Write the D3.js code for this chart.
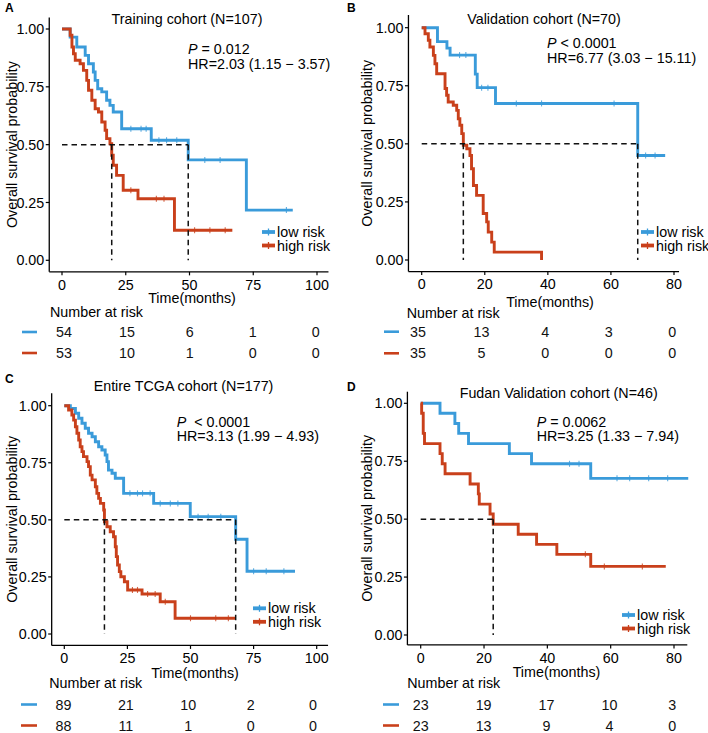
<!DOCTYPE html>
<html><head><meta charset="utf-8">
<script src="https://cdn.jsdelivr.net/npm/d3@7"></script>
<style>body{margin:0;background:#fff}svg{font-family:"Liberation Sans",Arial,sans-serif}</style>
</head><body><svg id="c" width="708" height="733"></svg>
<script>
// ---------- data ----------
const seriesNames = ["low risk", "high risk"];
const colors = ["#3A9BDA", "#C9401B"];

// Panel A: Training cohort
const timeA_low  = [0, 3.2, 5.8, 9.1, 10.4, 12.3, 13, 14, 15.6, 17.5, 18.8, 20.1, 23.4, 35, 49.5, 72.3, 90.5];
const survA_low  = [1, 0.965, 0.922, 0.886, 0.85, 0.814, 0.778, 0.742, 0.728, 0.692, 0.67, 0.641, 0.569, 0.519, 0.434, 0.217, 0.217];
const censA_low  = [27, 31, 33, 38, 41, 45, 56, 62, 88];
const timeA_high = [0, 3.2, 3.9, 4.5, 5.2, 7.1, 8.4, 9.7, 10.4, 11.7, 13, 14.3, 15.6, 16.9, 17.5, 18.8, 19.5, 20.1, 21.4, 24, 29.8, 44.1, 66.8];
const survA_high = [1, 0.973, 0.922, 0.893, 0.865, 0.85, 0.821, 0.778, 0.735, 0.692, 0.655, 0.641, 0.598, 0.562, 0.526, 0.504, 0.454, 0.411, 0.367, 0.303, 0.266, 0.13, 0.13];
const censA_high = [27, 37, 40, 52, 58, 64];
const ticksA = [0, 25, 50, 75, 100];
const riskA_low  = [54, 15, 6, 1, 0];
const riskA_high = [53, 10, 1, 0, 0];

// Panel B: Validation cohort
const timeB_low  = [0, 5.0, 8.0, 9.0, 17.0, 17.6, 23.4, 68.5, 77.2];
const survB_low  = [1, 0.94, 0.912, 0.882, 0.80, 0.742, 0.674, 0.45, 0.45];
const censB_low  = [12, 14, 19, 21, 30, 38, 61, 71, 74];
const timeB_high = [0, 1.05, 2.1, 2.6, 3.7, 4.2, 4.75, 7.4, 7.9, 8.4, 10, 11.1, 11.6, 12.1, 12.7, 13.2, 14.3, 15.3, 15.8, 16.4, 17.4, 19.5, 20.6, 21.1, 22.2, 23, 38];
const survB_high = [1, 0.974, 0.946, 0.917, 0.881, 0.845, 0.802, 0.738, 0.709, 0.68, 0.666, 0.644, 0.608, 0.58, 0.544, 0.494, 0.479, 0.45, 0.393, 0.321, 0.278, 0.2, 0.164, 0.12, 0.077, 0.034, 0];
const censB_high = [];
const ticksB = [0, 20, 40, 60, 80];
const riskB_low  = [35, 13, 4, 3, 0];
const riskB_high = [35, 5, 0, 0, 0];

// Panel C: Entire TCGA cohort
const timeC_low  = [0, 2.4, 4.4, 5.7, 7, 8.3, 9.6, 11, 12.3, 13.6, 14.9, 16.2, 16.9, 17.5, 18.9, 20.2, 23.5, 35.4, 49.9, 67.9, 72.4, 91.4];
const survC_low  = [1, 0.988, 0.967, 0.945, 0.923, 0.901, 0.879, 0.864, 0.842, 0.82, 0.806, 0.784, 0.755, 0.718, 0.704, 0.682, 0.616, 0.572, 0.514, 0.415, 0.275, 0.275];
const censC_low  = [26, 29, 31, 34, 38, 42, 45, 53, 57, 62, 75, 80, 87];
const timeC_high = [0, 1.7, 3.0, 3.7, 4.4, 5.0, 5.7, 6.3, 7.0, 7.6, 9.0, 9.6, 10.3, 11, 12.3, 12.9, 13.6, 14.3, 15.6, 15.9, 16.9, 18.2, 19.5, 20.2, 20.6, 21.1, 21.8, 22.4, 23.8, 25.1, 30.8, 38, 43.9, 67.7];
const survC_high = [1, 0.981, 0.959, 0.937, 0.908, 0.879, 0.85, 0.82, 0.799, 0.777, 0.755, 0.733, 0.696, 0.675, 0.645, 0.616, 0.594, 0.572, 0.543, 0.492, 0.47, 0.448, 0.426, 0.382, 0.339, 0.302, 0.273, 0.251, 0.229, 0.193, 0.175, 0.141, 0.069, 0.069];
const censC_high = [27, 29, 33, 36, 40, 50, 60, 65];
const ticksC = [0, 25, 50, 75, 100];
const riskC_low  = [89, 21, 10, 2, 0];
const riskC_high = [88, 11, 1, 0, 0];

// Panel D: Fudan Validation cohort
const timeD_low  = [0, 6.1, 10.8, 12.0, 15.1, 28, 35, 53.7, 84.5];
const survD_low  = [1, 0.957, 0.913, 0.87, 0.826, 0.783, 0.739, 0.676, 0.676];
const censD_low  = [47, 50, 62, 66, 72, 78];
const timeD_high = [0, 0.3, 0.8, 1.2, 6.1, 6.8, 7.7, 15.6, 18.2, 18.5, 21.9, 22.9, 30.8, 36.6, 43, 53.7, 77.4];
const survD_high = [1, 0.957, 0.87, 0.826, 0.783, 0.739, 0.696, 0.652, 0.609, 0.565, 0.522, 0.478, 0.435, 0.391, 0.348, 0.296, 0.296];
const censD_high = [52, 58, 70];
const ticksD = [0, 20, 40, 60, 80];
const riskD_low  = [23, 19, 17, 10, 3];
const riskD_high = [23, 13, 9, 4, 0];

const titles = ["Training cohort (N=107)", "Validation cohort (N=70)", "Entire TCGA cohort (N=177)", "Fudan Validation cohort (N=46)"];
const pTexts = [" = 0.012", " < 0.0001", "  < 0.0001", " = 0.0062"];
const hrTexts = ["HR=2.03 (1.15 \u2212 3.57)", "HR=6.77 (3.03 \u2212 15.11)", "HR=3.13 (1.99 \u2212 4.93)", "HR=3.25 (1.33 \u2212 7.94)"];
const medians = [[19.5, 49.5], [13.2, 68.5], [15.9, 67.9], [22.9, null]];
const letters = ["A", "B", "C", "D"];
const yTicks = [0, 0.25, 0.5, 0.75, 1];

// ---------- layout ----------
const panels = [
  {low:[timeA_low, survA_low, censA_low], high:[timeA_high, survA_high, censA_high], ticks:ticksA, risk:[riskA_low, riskA_high],
   xr:[62, 317], xd:[0,100], xext:[-5, 104.5], yr:[260.3, 29], yext:[-0.05, 1.05], riskR:[64, 315.7],
   letter:[5,12], title:[187,19], p:[188,49], leg:[262,232], yl:11.7, time:[192,297.5], nar:[50,312], rows:[332,353], dash:[22,37]},
  {low:[timeB_low, survB_low, censB_low], high:[timeB_high, survB_high, censB_high], ticks:ticksB, risk:[riskB_low, riskB_high],
   xr:[421.7, 674], xd:[0,80], xext:[-4.2, 81.6], yr:[260, 27.7], yext:[-0.05, 1.055], riskR:[418, 672.3],
   letter:[347,12], title:[544,19], p:[547,43], leg:[641,232], yl:367.3, time:[550,301.7], nar:[406.7,312.7], rows:[331.7,353.3], dash:[384,399]},
  {low:[timeC_low, survC_low, censC_low], high:[timeC_high, survC_high, censC_high], ticks:ticksC, risk:[riskC_low, riskC_high],
   xr:[64.3, 316.7], xd:[0,100], xext:[-5, 104.5], yr:[634, 405.7], yext:[-0.05, 1.054], riskR:[63.5, 313],
   letter:[5,383], title:[183.5,386], p:[176.7,421.7], leg:[253,608.3], yl:11.7, time:[195,673.3], nar:[49.3,683.3], rows:[704.5,725.5], dash:[21,37]},
  {low:[timeD_low, survD_low, censD_low], high:[timeD_high, survD_high, censD_high], ticks:ticksD, risk:[riskD_low, riskD_high],
   xr:[420.7, 674], xd:[0,80], xext:[-4.2, 84.2], yr:[635, 403.3], yext:[-0.043, 1.05], riskR:[420.7, 672.3],
   letter:[347,391], title:[558.7,393], p:[536.7,421.7], leg:[622,615], yl:367.3, time:[556.5,671.7], nar:[407.3,683.3], rows:[704.5,725.5], dash:[383,399]}
];

const svg = d3.select("#c");
const FS = 14.3;

panels.forEach((P, i) => {
  const g = svg.append("g");
  const x = d3.scaleLinear().domain(P.xd).range(P.xr);
  const y = d3.scaleLinear().domain([0,1]).range(P.yr);
  const x0 = x(P.xext[0]), x1 = x(P.xext[1]);
  const y0 = y(P.yext[0]), y1 = y(P.yext[1]);

  // curves
  const line = d3.line().x(d => x(d[0])).y(d => y(d[1])).curve(d3.curveStepAfter);
  [P.low, P.high].forEach((s, k) => {
    const pts = s[0].map((t, j) => [t, s[1][j]]);
    g.append("path").attr("d", line(pts)).attr("fill", "none")
      .attr("stroke", colors[k]).attr("stroke-width", 2.9).attr("stroke-linejoin", "miter");
    const stepVal = t => { let v = 1; s[0].forEach((tt, j) => { if (tt <= t) v = s[1][j]; }); return v; };
    s[2].forEach(t => {
      const cy = y(stepVal(t));
      g.append("line").attr("x1", x(t)).attr("x2", x(t)).attr("y1", cy - 3).attr("y2", cy + 3)
        .attr("stroke", colors[k]).attr("stroke-width", 1.1).attr("opacity", 0.8);
    });
  });

  // median dashed lines
  const med = medians[i].filter(m => m !== null);
  const maxMed = d3.max(med);
  g.append("line").attr("x1", x(0)).attr("x2", x(maxMed)).attr("y1", y(0.5)).attr("y2", y(0.5))
    .attr("stroke", "#111").attr("stroke-width", 1.5).attr("stroke-dasharray", "5.5,4");
  med.forEach(m => {
    g.append("line").attr("x1", x(m)).attr("x2", x(m)).attr("y1", y(0.5)).attr("y2", y(0))
      .attr("stroke", "#111").attr("stroke-width", 1.5).attr("stroke-dasharray", "5.5,4");
  });

  // axes
  g.append("line").attr("x1", x0).attr("x2", x0).attr("y1", y1).attr("y2", y0).attr("stroke", "#000").attr("stroke-width", 1.3);
  g.append("line").attr("x1", x0).attr("x2", x1).attr("y1", y0).attr("y2", y0).attr("stroke", "#000").attr("stroke-width", 1.3);
  yTicks.forEach(v => {
    g.append("line").attr("x1", x0 - 3.5).attr("x2", x0).attr("y1", y(v)).attr("y2", y(v)).attr("stroke", "#000").attr("stroke-width", 1.2);
    g.append("text").attr("x", x0 - 5).attr("y", y(v)).attr("dy", "0.36em").attr("text-anchor", "end")
      .attr("font-size", FS).attr("fill", "#000").text(d3.format(".2f")(v));
  });
  P.ticks.forEach(v => {
    g.append("line").attr("x1", x(v)).attr("x2", x(v)).attr("y1", y0).attr("y2", y0 + 3.5).attr("stroke", "#000").attr("stroke-width", 1.2);
    g.append("text").attr("x", x(v)).attr("y", y0 + 12.5).attr("dy", "0.36em").attr("text-anchor", "middle")
      .attr("font-size", FS).attr("fill", "#000").text(v);
  });

  g.append("text").attr("transform", `translate(${P.yl},${(y0 + y1) / 2}) rotate(-90)`).attr("dy", "0.36em")
    .attr("text-anchor", "middle").attr("font-size", FS).text("Overall survival probability");
  g.append("text").attr("x", P.time[0]).attr("y", P.time[1]).attr("dy", "0.36em").attr("text-anchor", "middle")
    .attr("font-size", FS).text("Time(months)");

  g.append("text").attr("x", P.letter[0]).attr("y", P.letter[1]).attr("font-size", 12).attr("font-weight", "bold").text(letters[i]);
  g.append("text").attr("x", P.title[0]).attr("y", P.title[1]).attr("dy", "0.36em").attr("text-anchor", "middle")
    .attr("font-size", FS).text(titles[i]);

  const pt = g.append("text").attr("x", P.p[0]).attr("y", P.p[1]).attr("dy", "0.36em").attr("font-size", FS);
  pt.append("tspan").attr("font-style", "italic").text("P");
  pt.append("tspan").style("white-space", "pre").text(pTexts[i]);
  g.append("text").attr("x", P.p[0]).attr("y", P.p[1] + 14.5).attr("dy", "0.36em").attr("font-size", FS).text(hrTexts[i]);

  seriesNames.forEach((nm, k) => {
    const ly = P.leg[1] + k * 13.5;
    g.append("line").attr("x1", P.leg[0]).attr("x2", P.leg[0] + 13).attr("y1", ly).attr("y2", ly)
      .attr("stroke", colors[k]).attr("stroke-width", 3.8);
    g.append("line").attr("x1", P.leg[0] + 6.5).attr("x2", P.leg[0] + 6.5).attr("y1", ly - 3.5).attr("y2", ly + 3.5)
      .attr("stroke", colors[k]).attr("stroke-width", 1.3);
    g.append("text").attr("x", P.leg[0] + 15).attr("y", ly).attr("dy", "0.36em").attr("font-size", FS).text(nm);
  });

  const xr = d3.scaleLinear().domain(P.xd).range(P.riskR);
  g.append("text").attr("x", P.nar[0]).attr("y", P.nar[1]).attr("dy", "0.36em").attr("font-size", FS).text("Number at risk");
  P.risk.forEach((row, k) => {
    const ry = P.rows[k];
    g.append("line").attr("x1", P.dash[0]).attr("x2", P.dash[1]).attr("y1", ry).attr("y2", ry)
      .attr("stroke", colors[k]).attr("stroke-width", 2.6);
    row.forEach((v, j) => {
      g.append("text").attr("x", xr(P.ticks[j])).attr("y", ry).attr("dy", "0.36em").attr("text-anchor", "middle")
        .attr("font-size", FS).attr("fill", "#111").text(v);
    });
  });
});
</script></body></html>
